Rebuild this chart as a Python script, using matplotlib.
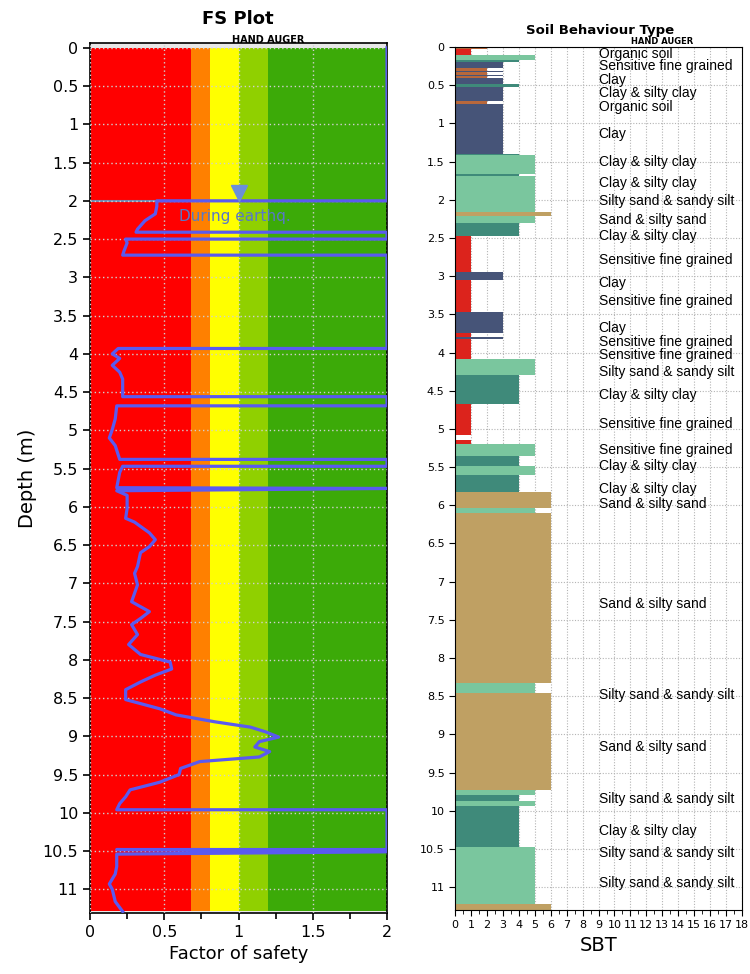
import numpy as np
import matplotlib.pyplot as plt
from matplotlib.ticker import MultipleLocator, FormatStrFormatter

# Factor of safety profile (depth m, FS)
fs_depth = [0.0, 2.0, 2.0, 2.07, 2.17, 2.26, 2.37, 2.41, 2.41, 2.50, 2.50, 2.55, 2.65, 2.71, 2.71,
            3.93, 3.93, 4.0, 4.06, 4.15, 4.24, 4.33, 4.56, 4.56, 4.68, 4.68, 4.85, 4.99, 5.1, 5.2,
            5.38, 5.38, 5.47, 5.47, 5.55, 5.75, 5.76, 5.79, 5.85, 6.02, 6.15, 6.2, 6.34, 6.43,
            6.52, 6.6, 6.78, 6.87, 7.02, 7.24, 7.37, 7.46, 7.54, 7.67, 7.8, 7.93, 8.03, 8.12,
            8.2, 8.29, 8.39, 8.52, 8.64, 8.72, 8.81, 8.88, 8.94, 9.01, 9.07, 9.14, 9.2, 9.27,
            9.33, 9.42, 9.5, 9.6, 9.7, 9.79, 9.88, 9.96, 9.96, 10.48, 10.48, 10.51, 10.54,
            10.7, 10.8, 10.93, 11.0, 11.16, 11.29]
fs_value = [2.0, 2.0, 0.45, 0.45, 0.44, 0.37, 0.32, 0.31, 2.0, 2.0, 0.24, 0.25, 0.23, 0.22, 2.0,
            2.0, 0.19, 0.15, 0.2, 0.15, 0.2, 0.22, 0.22, 2.0, 2.0, 0.18, 0.17, 0.15, 0.13, 0.17,
            0.2, 2.0, 2.0, 0.22, 0.2, 0.18, 2.0, 0.18, 0.25, 0.25, 0.24, 0.3, 0.40, 0.44,
            0.40, 0.34, 0.32, 0.30, 0.32, 0.28, 0.40, 0.34, 0.28, 0.32, 0.26, 0.34, 0.54, 0.55,
            0.44, 0.34, 0.24, 0.24, 0.47, 0.58, 0.84, 1.08, 1.18, 1.27, 1.14, 1.11, 1.21, 1.14,
            0.74, 0.61, 0.60, 0.47, 0.27, 0.24, 0.2, 0.18, 2.0, 2.0, 0.18, 2.0, 0.18,
            0.18, 0.17, 0.13, 0.15, 0.17, 0.22]

# FS colour zones
zone_edges = [0, 0.68, 0.81, 1.0, 1.2, 2.0]
zone_colors = ['#ff0000', '#ff8000', '#ffff00', '#90d000', '#3caa08']

water_depth = 2.0

# SBT layers: top, bottom, zone
sbt_top = [0.0, 0.03, 0.10, 0.17, 0.20, 0.27, 0.31, 0.33, 0.36, 0.38, 0.41, 0.49, 0.52, 0.71,
           0.74, 1.40, 1.42, 1.66, 1.69, 2.16, 2.21, 2.31, 2.47, 2.94, 3.05, 3.47, 3.75, 3.80,
           3.82, 4.08, 4.29, 4.67, 5.14, 5.20, 5.36, 5.48, 5.61, 5.83, 6.03, 6.10, 8.33, 8.46,
           9.73, 9.80, 9.87, 9.94, 10.47, 10.50, 11.22]
sbt_bottom = [0.03, 0.10, 0.17, 0.20, 0.27, 0.31, 0.33, 0.36, 0.38, 0.41, 0.49, 0.52, 0.71, 0.74,
              1.40, 1.42, 1.66, 1.69, 2.16, 2.21, 2.31, 2.47, 2.94, 3.05, 3.47, 3.75, 3.80, 3.82,
              4.08, 4.29, 4.67, 5.08, 5.20, 5.36, 5.48, 5.61, 5.83, 6.03, 6.10, 8.33, 8.46, 9.73,
              9.80, 9.87, 9.94, 10.47, 10.50, 11.22, 11.30]
sbt_zone = [2, 1, 5, 4, 3, 2, 3, 2, 3, 2, 3, 4, 3, 2,
            3, 4, 5, 4, 5, 6, 5, 4, 1, 3, 1, 3, 1, 3,
            1, 5, 4, 1, 1, 5, 4, 5, 4, 6, 5, 6, 5, 6,
            5, 4, 5, 4, 5, 5, 6]
sbt_colors = {1: '#dc231c', 2: '#b8683c', 3: '#465478', 4: '#3f8a7a', 5: '#7ac69e', 6: '#bfa063'}

label_depth = [0.09, 0.25, 0.43, 0.60, 0.79, 1.14, 1.50, 1.78, 2.01, 2.27, 2.47, 2.79, 3.09, 3.33,
               3.68, 3.86, 4.03, 4.26, 4.56, 4.93, 5.27, 5.49, 5.79, 5.99, 7.29, 8.48, 9.17, 9.84,
               10.27, 10.55, 10.94]
label_text = ['Organic soil', 'Sensitive fine grained', 'Clay', 'Clay & silty clay', 'Organic soil',
              'Clay', 'Clay & silty clay', 'Clay & silty clay', 'Silty sand & sandy silt',
              'Sand & silty sand', 'Clay & silty clay', 'Sensitive fine grained', 'Clay',
              'Sensitive fine grained', 'Clay', 'Sensitive fine grained', 'Sensitive fine grained',
              'Silty sand & sandy silt', 'Clay & silty clay', 'Sensitive fine grained',
              'Sensitive fine grained', 'Clay & silty clay', 'Clay & silty clay', 'Sand & silty sand',
              'Sand & silty sand', 'Silty sand & sandy silt', 'Sand & silty sand',
              'Silty sand & sandy silt', 'Clay & silty clay', 'Silty sand & sandy silt',
              'Silty sand & sandy silt']

narrow = ['Liberation Sans Narrow', 'Liberation Sans', 'DejaVu Sans']
fmt = FormatStrFormatter('%g')

fig = plt.figure(figsize=(7.5, 9.74), dpi=100)

# ---- FS plot
ax1 = fig.add_axes([0.12, 0.0626, 0.396, 0.893])
ax1.set_facecolor('#e8e8e8')
for i in range(len(zone_colors)):
    ax1.fill_betweenx([0, 11.29], zone_edges[i], zone_edges[i + 1], color=zone_colors[i], lw=0, zorder=0)
ax1.set_xlim(0, 2)
ax1.set_ylim(11.31, -0.06)
ax1.xaxis.set_major_locator(MultipleLocator(0.5))
ax1.xaxis.set_minor_locator(MultipleLocator(0.25))
ax1.yaxis.set_major_locator(MultipleLocator(0.5))
ax1.xaxis.set_major_formatter(fmt)
ax1.yaxis.set_major_formatter(fmt)
ax1.grid(True, color='#d0d0d0', ls=(0, (1, 2)), lw=1, zorder=1)
ax1.set_axisbelow(False)
ax1.axhline(water_depth, color='#7088b0', lw=1.5, zorder=2)
ax1.plot(fs_value, fs_depth, color='#5a5af0', lw=2.3, zorder=3)
ax1.plot([1.0], [1.9], marker='v', ms=11, color='#6b8fd8', zorder=4)
ax1.text(0.6, 2.27, 'During earthq.', color='#5878c8', fontsize=11, zorder=4)
ax1.tick_params(labelsize=11.5, length=5, width=1.2)
ax1.tick_params(which='minor', length=4, width=1.2)
ax1.set_xlabel('Factor of safety', fontsize=13)
ax1.set_ylabel('Depth (m)', fontsize=14)
for s in ax1.spines.values():
    s.set_linewidth(1.2)
fig.text(0.317, 0.981, 'FS Plot', ha='center', va='center', fontsize=13, fontweight='bold')
ax1.text(1.2, -0.04, 'HAND AUGER', ha='center', va='bottom', fontsize=7, fontweight='bold')

# ---- SBT plot
ax2 = fig.add_axes([0.6067, 0.0657, 0.3827, 0.886])
heights = [b - t for t, b in zip(sbt_top, sbt_bottom)]
ax2.barh(sbt_top, sbt_zone, height=heights, align='edge',
         color=[sbt_colors[z] for z in sbt_zone], lw=0, zorder=2)
for d, t in zip(label_depth, label_text):
    ax2.text(9.0, d, t, fontsize=10, va='center', ha='left', family=narrow, zorder=3)
ax2.set_xlim(0, 18)
ax2.set_ylim(11.3, 0)
ax2.xaxis.set_major_locator(MultipleLocator(1))
ax2.xaxis.set_minor_locator(MultipleLocator(0.5))
ax2.yaxis.set_major_locator(MultipleLocator(0.5))
ax2.xaxis.set_major_formatter(fmt)
ax2.yaxis.set_major_formatter(fmt)
ax2.grid(True, color='#b4b4b4', ls=(0, (1, 1.5)), lw=0.8, zorder=1)
ax2.tick_params(labelsize=8, length=4)
ax2.tick_params(which='minor', length=3)
ax2.set_xlabel('SBT', fontsize=14)
fig.text(0.80, 0.969, 'Soil Behaviour Type', ha='center', va='center', fontsize=9.5, fontweight='bold')
ax2.text(13.0, -0.02, 'HAND AUGER', ha='center', va='bottom', fontsize=6, fontweight='bold')

fig.savefig('out.png', dpi=100)
